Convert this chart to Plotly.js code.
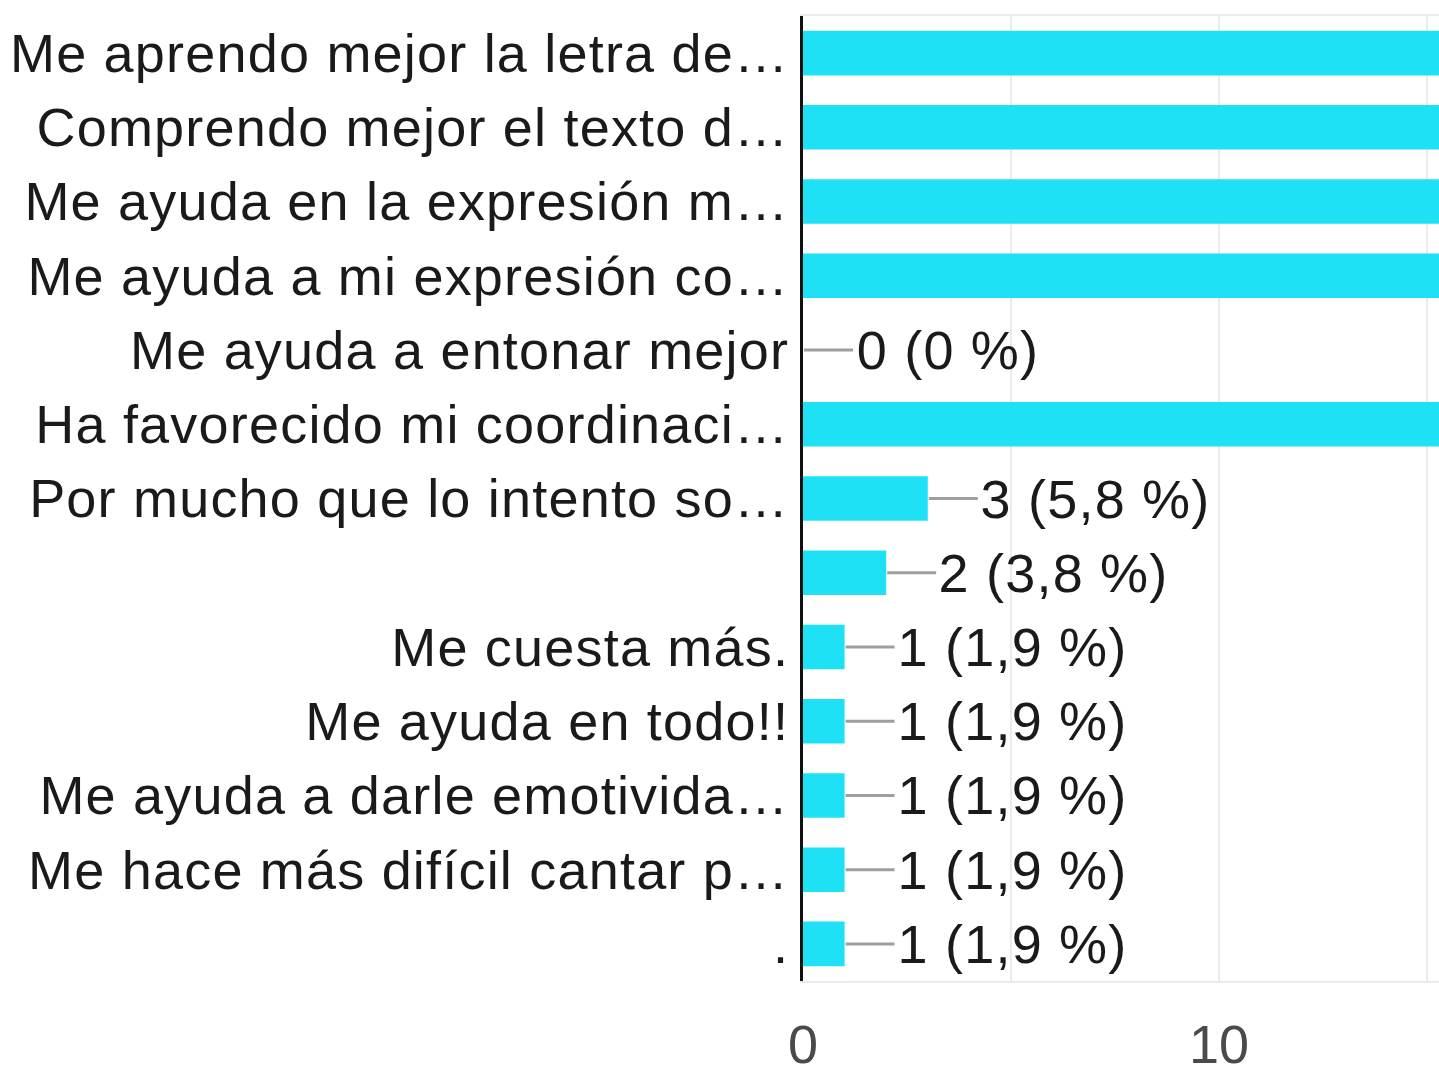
<!DOCTYPE html>
<html><head><meta charset="utf-8">
<script src="https://cdn.plot.ly/plotly-3.0.1.min.js"></script>
<style>html,body{margin:0;padding:0;background:#fff}#c{width:1439px;height:1068px}
#c .ytick text, #c .annotation-text{letter-spacing:1.2px}</style>
</head><body><div id="c"></div>
<script>
const categories = [
  "Me aprendo mejor la letra de…",
  "Comprendo mejor el texto d…",
  "Me ayuda en la expresión m…",
  "Me ayuda a mi expresión co…",
  "Me ayuda a entonar mejor",
  "Ha favorecido mi coordinaci…",
  "Por mucho que lo intento so…",
  " ",
  "Me cuesta más.",
  "Me ayuda en todo!!",
  "Me ayuda a darle emotivida…",
  "Me hace más difícil cantar p…",
  "."
];
const counts = [40, 34, 30, 25, 0, 21, 3, 2, 1, 1, 1, 1, 1];
const percents = ["76,9", "65,4", "57,7", "48,1", "0", "40,4", "5,8", "3,8", "1,9", "1,9", "1,9", "1,9", "1,9"];
const xTicks = [0, 10];

const FONT = "'Liberation Sans', Arial, sans-serif";
const FS = 54;
const xMax = 15.29;

const trace = {
  type: "bar", orientation: "h",
  x: counts, y: categories,
  marker: {color: "#1FE1F6"},
  width: 0.6,
  hoverinfo: "skip"
};

const shapes = [];
const annotations = [];
counts.forEach((v, i) => {
  if (v > xMax) return;
  shapes.push({type: "line", xref: "x", yref: "y", xsizemode: "pixel", xanchor: v,
    x0: 1, x1: 50, y0: categories[i], y1: categories[i],
    line: {color: "#9e9e9e", width: 3}, layer: "above"});
  annotations.push({xref: "x", yref: "y", x: v, y: categories[i], xanchor: "left", yanchor: "middle",
    xshift: 56, showarrow: false, text: counts[i] + " (" + percents[i] + " %)",
    font: {family: FONT, size: FS, color: "#1a1a1a"}});
});

const layout = {
  width: 1439, height: 1068,
  margin: {l: 803, r: 0, t: 16, b: 87},
  paper_bgcolor: "#fff", plot_bgcolor: "#fff",
  showlegend: false,
  bargap: 0.4,
  xaxis: {range: [0, xMax], tickmode: "array", tickvals: xTicks, ticktext: xTicks.map(String),
    showgrid: true, gridcolor: "#ebebeb", gridwidth: 2,
    minor: {dtick: 5, showgrid: true, gridcolor: "#ebebeb", gridwidth: 2},
    zeroline: false, showline: true, mirror: true, linecolor: "#ebebeb", linewidth: 2,
    ticks: "", ticklabelstandoff: 15,
    tickfont: {family: FONT, size: FS, color: "#4a4a4a"}, fixedrange: true},
  yaxis: {type: "category", categoryorder: "array", categoryarray: categories,
    autorange: "reversed", showgrid: false, zeroline: false,
    showline: true, linecolor: "#111", linewidth: 3, ticks: "", ticklabelstandoff: 0,
    tickfont: {family: FONT, size: FS, color: "#1a1a1a"}, fixedrange: true},
  shapes: shapes,
  annotations: annotations
};
Plotly.newPlot("c", [trace], layout, {displayModeBar: false, staticPlot: true});
</script>
</body></html>
